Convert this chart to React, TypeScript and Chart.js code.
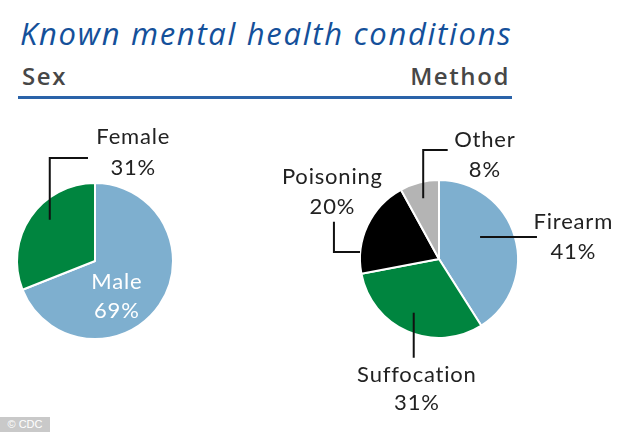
import React, { useEffect, useRef } from "react";
import { Chart, registerables } from "chart.js";

Chart.register(...registerables);

const titleText = "Known mental health conditions";
const leftHeading = "Sex";
const rightHeading = "Method";
const sourceText = "© CDC";

const sexLabels = ["Male", "Female"];
const sexValues = [69, 31];
const sexColors = ["#7eafcf", "#00853f"];
const sexTextColors = ["#ffffff", "#222222"];

const methodLabels = ["Firearm", "Suffocation", "Poisoning", "Other"];
const methodValues = [41, 31, 20, 8];
const methodColors = ["#7eafcf", "#00853f", "#000000", "#b4b4b4"];
const methodTextColors = ["#222222", "#222222", "#222222", "#222222"];

// label placement, in units of pie radius relative to pie centre
const sexLabelPos = [
  { dx: 0.28, dy1: 0.27, dy2: 0.64 },
  { dx: 0.49, dy1: -1.59, dy2: -1.19 },
];
const sexLeaders = [
  [],
  [[-0.09, -1.32], [-0.58, -1.32], [-0.58, -0.53]],
];
const methodLabelPos = [
  { dx: 1.7, dy1: -0.47, dy2: -0.09 },
  { dx: -0.28, dy1: 1.47, dy2: 1.82 },
  { dx: -1.35, dy1: -1.04, dy2: -0.66 },
  { dx: 0.58, dy1: -1.51, dy2: -1.13 },
];
const methodLeaders = [
  [[0.52, -0.28], [1.24, -0.28]],
  [[-0.32, 0.68], [-0.32, 1.25]],
  [[-1.33, -0.47], [-1.33, -0.09], [-1.0, -0.09]],
  [[0.11, -1.38], [-0.2, -1.38], [-0.2, -0.77]],
];

const LABEL_FONT = "400 22px Lato, 'Open Sans', sans-serif";
const W = 634;
const H = 432;

function makeLabelPlugin(
  labels: string[],
  values: number[],
  pos: { dx: number; dy1: number; dy2: number }[],
  leaders: number[][][],
  textColors: string[]
) {
  return {
    id: "pieLabels",
    afterDatasetsDraw(chart: any) {
      const ctx = chart.ctx;
      const meta = chart.getDatasetMeta(0);
      ctx.save();
      meta.data.forEach((arc: any, i: number) => {
        const cx = arc.x;
        const cy = arc.y;
        const r = arc.outerRadius;
        const pts = leaders[i];
        if (pts && pts.length > 1) {
          ctx.beginPath();
          ctx.strokeStyle = "#111111";
          ctx.lineWidth = 2;
          ctx.lineJoin = "miter";
          pts.forEach((p, k) => {
            const x = cx + p[0] * r;
            const y = cy + p[1] * r;
            if (k === 0) ctx.moveTo(x, y);
            else ctx.lineTo(x, y);
          });
          ctx.stroke();
        }
        const p = pos[i];
        ctx.font = LABEL_FONT;
        try {
          (ctx as any).letterSpacing = "0.8px";
        } catch (e) {}
        ctx.fillStyle = textColors[i];
        ctx.textAlign = "center";
        ctx.textBaseline = "middle";
        ctx.fillText(labels[i], cx + p.dx * r, cy + p.dy1 * r);
        ctx.fillText(values[i] + "%", cx + p.dx * r, cy + p.dy2 * r);
      });
      ctx.restore();
    },
  };
}

function PieChart(props: {
  labels: string[];
  values: number[];
  colors: string[];
  textColors: string[];
  pos: { dx: number; dy1: number; dy2: number }[];
  leaders: number[][][];
  padding: { left: number; right: number; top: number; bottom: number };
}) {
  const ref = useRef<HTMLCanvasElement>(null);
  useEffect(() => {
    if (!ref.current) return;
    const chart = new Chart(ref.current, {
      type: "pie",
      data: {
        labels: props.labels,
        datasets: [
          {
            data: props.values,
            backgroundColor: props.colors,
            borderColor: "#ffffff",
            borderWidth: 2,
          },
        ],
      },
      options: {
        responsive: false,
        animation: false,
        layout: { padding: props.padding },
        plugins: {
          legend: { display: false },
          tooltip: { enabled: false },
        },
      },
      plugins: [
        makeLabelPlugin(props.labels, props.values, props.pos, props.leaders, props.textColors),
      ],
    });
    return () => chart.destroy();
  }, []);
  return (
    <canvas
      ref={ref}
      width={W}
      height={H}
      style={{ position: "absolute", left: 0, top: 0 }}
    />
  );
}

export default function App() {
  return (
    <div
      style={{
        position: "fixed",
        left: 0,
        top: 0,
        width: W,
        height: H,
        background: "#ffffff",
        overflow: "hidden",
        fontFamily: "'Open Sans', Lato, sans-serif",
      }}
    >
      <div
        style={{
          position: "absolute",
          left: 20,
          top: 13,
          fontSize: 31,
          lineHeight: "40px",
          fontStyle: "italic",
          letterSpacing: "1.7px",
          color: "#14509a",
          whiteSpace: "nowrap",
        }}
      >
        {titleText}
      </div>
      <div
        style={{
          position: "absolute",
          left: 22,
          top: 60,
          fontSize: 24,
          lineHeight: "32px",
          fontWeight: 600,
          letterSpacing: "1.6px",
          color: "#474747",
        }}
      >
        {leftHeading}
      </div>
      <div
        style={{
          position: "absolute",
          right: W - 510,
          top: 60,
          fontSize: 24,
          lineHeight: "32px",
          fontWeight: 600,
          letterSpacing: "1.6px",
          color: "#474747",
        }}
      >
        {rightHeading}
      </div>
      <div
        style={{
          position: "absolute",
          left: 18,
          top: 96,
          width: 494,
          height: 3,
          background: "#2a63a9",
        }}
      />
      <PieChart
        labels={sexLabels}
        values={sexValues}
        colors={sexColors}
        textColors={sexTextColors}
        pos={sexLabelPos}
        leaders={sexLeaders}
        padding={{ left: 16, right: W - 174, top: 182, bottom: H - 340 }}
      />
      <PieChart
        labels={methodLabels}
        values={methodValues}
        colors={methodColors}
        textColors={methodTextColors}
        pos={methodLabelPos}
        leaders={methodLeaders}
        padding={{ left: 359, right: W - 519, top: 179, bottom: H - 339 }}
      />
      <div
        style={{
          position: "absolute",
          left: 0,
          top: 417,
          width: 50,
          height: 15,
          background: "#c9c9c9",
          color: "#ffffff",
          fontSize: 11,
          lineHeight: "15px",
          textAlign: "center",
          fontFamily: "Arial, 'Liberation Sans', sans-serif",
        }}
      >
        {sourceText}
      </div>
    </div>
  );
}
